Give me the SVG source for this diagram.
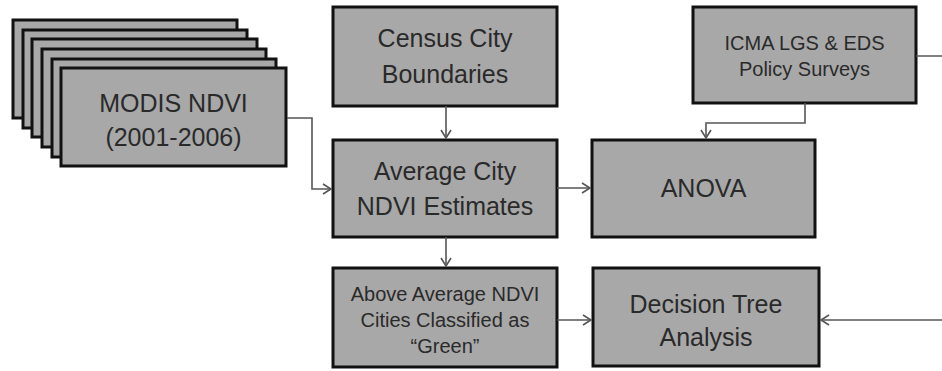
<svg xmlns="http://www.w3.org/2000/svg" width="942" height="371" viewBox="0 0 942 371">
<style>
.box{fill:#a8a8a8;stroke:#111;stroke-width:3}
.t{font-family:"Liberation Sans",Arial,sans-serif;fill:#2a2a2a;text-anchor:middle}
.big{font-size:25px}
.sm{font-size:20px}
.c{fill:none;stroke:#555;stroke-width:1.6}
</style>
<defs>
<marker id="ah" markerWidth="12" markerHeight="12" refX="9" refY="6" orient="auto" markerUnits="userSpaceOnUse">
<path d="M1,1 L9,6 L1,11" fill="none" stroke="#555" stroke-width="1.6"/>
</marker>
</defs>
<rect width="942" height="371" fill="#fff"/>
<g id="modis">
<rect class="box" x="13" y="20" width="224" height="98"/>
<rect class="box" x="23" y="30" width="224" height="98"/>
<rect class="box" x="32" y="39" width="225" height="98"/>
<rect class="box" x="42" y="49" width="224" height="98"/>
<rect class="box" x="52" y="59" width="224" height="98"/>
<rect class="box" x="61" y="68" width="225" height="98"/>
<text class="t big" x="173.5" y="112">MODIS NDVI</text>
<text class="t big" x="173.5" y="146">(2001-2006)</text>
</g>
<g id="census">
<rect class="box" x="333" y="7" width="224" height="99"/>
<text class="t big" x="445" y="47">Census City</text>
<text class="t big" x="445" y="83">Boundaries</text>
</g>
<g id="icma">
<rect class="box" x="693" y="7" width="223" height="96"/>
<text class="t sm" x="804.5" y="50">ICMA LGS &amp; EDS</text>
<text class="t sm" x="804.5" y="76">Policy Surveys</text>
</g>
<g id="average">
<rect class="box" x="333" y="140" width="224" height="97"/>
<text class="t big" x="445" y="180">Average City</text>
<text class="t big" x="445" y="215">NDVI Estimates</text>
</g>
<g id="anova">
<rect class="box" x="592" y="140" width="223" height="97"/>
<text class="t big" x="703.5" y="197">ANOVA</text>
</g>
<g id="green">
<rect class="box" x="333" y="268" width="224" height="99"/>
<text class="t sm" x="445" y="301">Above Average NDVI</text>
<text class="t sm" x="445" y="327">Cities Classified as</text>
<text class="t sm" x="445" y="353">“Green”</text>
</g>
<g id="decision">
<rect class="box" x="593" y="268" width="226" height="98"/>
<text class="t big" x="706" y="313">Decision Tree</text>
<text class="t big" x="706" y="346">Analysis</text>
</g>
<g id="connectors">
<path class="c" d="M287,118 H312 V189 H331" marker-end="url(#ah)"/>
<path class="c" d="M446,106 V138" marker-end="url(#ah)"/>
<path class="c" d="M557,188 H590" marker-end="url(#ah)"/>
<path class="c" d="M805,103 V123 H706 V138" marker-end="url(#ah)"/>
<path class="c" d="M446,237 V266" marker-end="url(#ah)"/>
<path class="c" d="M557,320 H591" marker-end="url(#ah)"/>
<path class="c" d="M916,56 H950 V320 H821" marker-end="url(#ah)"/>
</g>
</svg>
